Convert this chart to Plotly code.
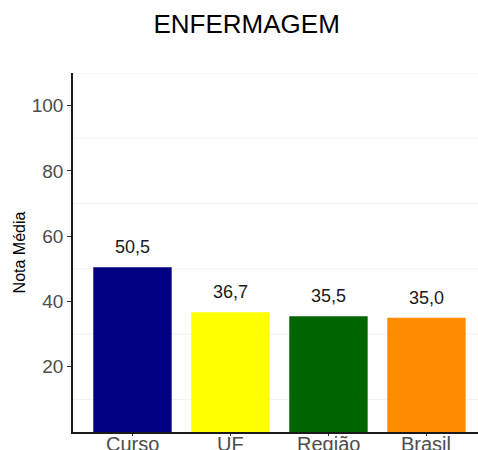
import plotly.graph_objects as go

categories = ["Curso", "UF", "Região", "Brasil"]
values = [50.5, 36.7, 35.5, 35.0]
labels = ["50,5", "36,7", "35,5", "35,0"]
colors = ["#000080", "#FFFF00", "#006400", "#FF8C00"]
y_ticks = [20, 40, 60, 80, 100]
minor_grid = [10, 30, 50, 70, 90, 110]

fig = go.Figure()
fig.add_trace(go.Bar(x=categories, y=values, marker=dict(color=colors, line=dict(width=0)),
                     width=0.8, hoverinfo="skip"))

for c, v, t in zip(categories, values, labels):
    fig.add_annotation(x=c, y=v, text=t, showarrow=False, yanchor="bottom", yshift=8,
                       font=dict(size=18, color="#1a1a1a", family="Liberation Sans"))

# category labels just below the x axis
for c in categories:
    fig.add_annotation(x=c, y=0, text=c, showarrow=False, yanchor="top", yshift=0,
                       borderpad=0, font=dict(size=20, color="#4d4d4d", family="Liberation Sans"))

for g in minor_grid:
    fig.add_shape(type="line", xref="paper", x0=0, x1=1, yref="y", y0=g, y1=g,
                  line=dict(color="#f2f2f2", width=1), layer="below")

fig.update_layout(
    width=478, height=450,
    margin=dict(l=73, r=0, t=73, b=18, autoexpand=False),
    paper_bgcolor="white", plot_bgcolor="white",
    showlegend=False,
    title=dict(text="ENFERMAGEM", x=0.516, xanchor="center", y=0.947, yanchor="middle",
               font=dict(size=26, color="black", family="Liberation Sans")),
    font=dict(family="Liberation Sans"),
)
fig.update_xaxes(range=[-0.607, 3.526], showline=True, linecolor="#1a1a1a", linewidth=1.5,
                 ticks="outside", ticklen=2, tickcolor="#333333", showgrid=False, automargin=False,
                 showticklabels=False)
fig.update_yaxes(range=[0, 110], tickvals=y_ticks, showline=True, linecolor="#1a1a1a", linewidth=1.5,
                 ticks="outside", ticklen=4, tickcolor="#333333", showgrid=False, zeroline=False,
                 automargin=False,
                 tickfont=dict(size=19, color="#4d4d4d"),
                 title=dict(text="Nota Média", font=dict(size=16, color="black"), standoff=2))

fig.write_html("out.html", config={"displayModeBar": False},
               post_script="document.body.style.margin='0';document.body.style.overflow='hidden';")
